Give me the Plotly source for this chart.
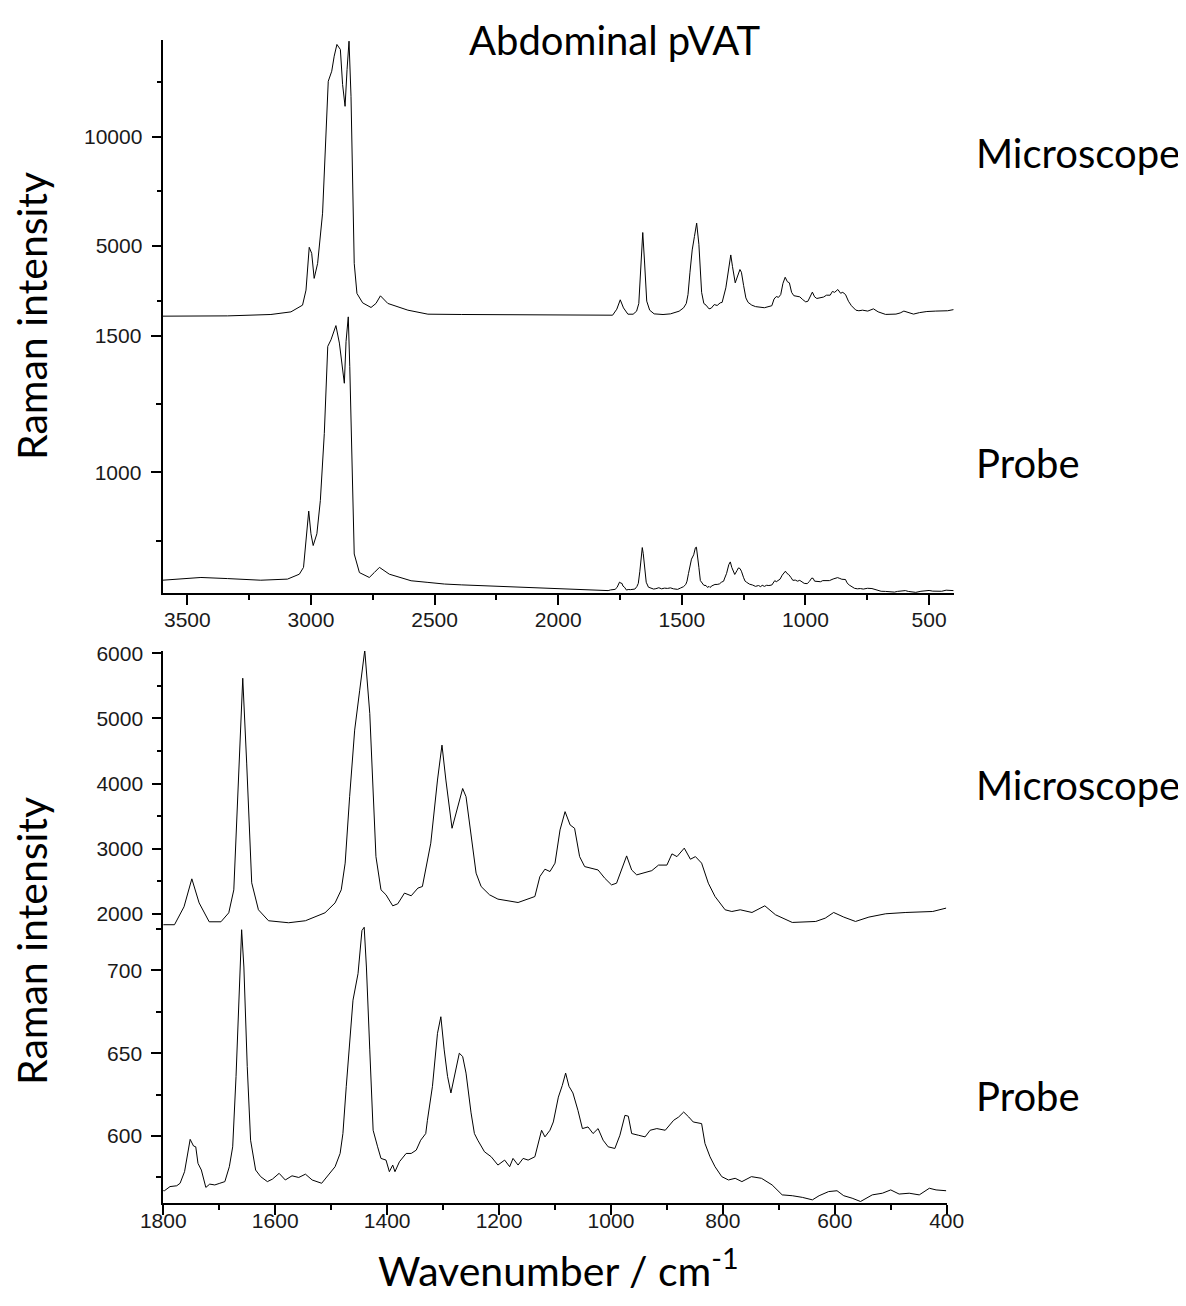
import plotly.graph_objects as go

# ---------------- data ----------------
wn_micro = [3600, 3337, 3162, 3081, 3034, 3020, 3007, 2997, 2987, 2973, 2953, 2939, 2930, 2916,
            2906, 2895, 2881, 2872, 2862, 2854, 2846, 2838, 2831, 2825, 2814, 2791, 2757, 2737,
            2719, 2689, 2608, 2527, 2392, 2200, 2000, 1800, 1780, 1763, 1749, 1736, 1718, 1697,
            1683, 1674, 1665, 1658, 1651, 1642, 1630, 1612, 1576, 1546, 1511, 1493, 1482, 1475,
            1467, 1458, 1449, 1440, 1431, 1425, 1420, 1411, 1402, 1390, 1381, 1369, 1357, 1345,
            1337, 1322, 1310, 1302, 1295, 1284, 1265, 1259, 1250, 1241, 1232, 1217, 1202, 1166,
            1136, 1127, 1118, 1109, 1100, 1091, 1082, 1073, 1065, 1056, 1047, 1023, 1011, 999,
            990, 981, 972, 963, 954, 927, 915, 900, 891, 882, 869, 858, 849, 838, 826, 814, 796,
            784, 769, 748, 725, 706, 676, 634, 617, 602, 584, 563, 539, 509, 473, 425, 401]
int_micro = [1790, 1803, 1867, 1986, 2294, 2982, 4940, 4665, 3519, 4206, 6500, 10321, 12537, 12996,
             13683, 14220, 13991, 12385, 11390, 13073, 14370, 11848, 7262, 4206, 2830, 2400, 2188, 2372,
             2721, 2372, 2065, 1881, 1867, 1850, 1840, 1835, 1835, 2110, 2539, 2170, 1880, 1880,
             2018, 2370, 4315, 5617, 4315, 2478, 2064, 1896, 1865, 1896, 2018, 2170, 2370, 2780,
             3800, 4821, 5433, 6046, 5077, 3800, 2880, 2371, 2294, 2125, 2156, 2320, 2279, 2397,
             2421, 3086, 4055, 4591, 4055, 3315, 3925, 3800, 3187, 2626, 2421, 2294, 2228, 2176,
             2268, 2574, 2687, 2651, 2779, 3290, 3570, 3366, 3315, 2880, 2727, 2675, 2548, 2446,
             2472, 2675, 2891, 2675, 2600, 2665, 2750, 2750, 2922, 2880, 3010, 2840, 2880, 2780, 2472, 2268, 2064,
             2038, 2064, 2023, 2125, 1988, 1870, 1885, 1936, 2023, 1952, 1885, 1952, 2003, 2023, 2038, 2090]

wn_probe = [3600, 3445, 3337, 3203, 3095, 3047, 3030, 3020, 3009, 3000, 2991, 2976, 2962, 2946,
            2932, 2919, 2899, 2885, 2872, 2865, 2858, 2849, 2843, 2835, 2825, 2804, 2764, 2744,
            2723, 2683, 2595, 2527, 2460, 2392, 2200, 2000, 1798, 1788, 1776, 1770, 1762, 1752,
            1746, 1742, 1738, 1732, 1724, 1717, 1708, 1699, 1690, 1682, 1676, 1670, 1664, 1660,
            1656, 1650, 1644, 1635, 1626, 1614, 1605, 1593, 1582, 1570, 1558, 1546, 1534, 1517,
            1505, 1493, 1484, 1479, 1473, 1467, 1461, 1452, 1445, 1441, 1437, 1431, 1425, 1417,
            1411, 1402, 1396, 1390, 1386, 1378, 1366, 1357, 1348, 1340, 1331, 1328, 1319, 1310,
            1304, 1298, 1292, 1286, 1277, 1271, 1265, 1259, 1250, 1244, 1238, 1226, 1214, 1202,
            1190, 1181, 1175, 1166, 1157, 1148, 1136, 1130, 1124, 1118, 1109, 1103, 1094, 1087,
            1081, 1075, 1068, 1059, 1051, 1041, 1032, 1023, 1014, 1005, 993, 984, 975, 969, 963,
            951, 939, 930, 918, 903, 888, 879, 870, 861, 853, 838, 832, 823, 814, 802, 790, 778,
            766, 749, 731, 712, 694, 676, 658, 640, 628, 611, 596, 584, 569, 554, 533, 515, 500,
            485, 467, 449, 431, 419, 401]
int_probe = [605, 615, 611, 605, 609, 627, 652, 750, 858, 775, 732, 775, 897, 1142,
             1461, 1485, 1537, 1473, 1375, 1326, 1479, 1569, 1387, 1020, 701, 633, 615, 633,
             652, 627, 603, 597, 591, 588, 582, 574, 567, 569.5, 570, 571.5, 578.5, 598,
             594, 593.5, 583.5, 579.5, 569, 571, 570.5, 571.5, 572.5, 581.5, 593.5, 636, 692, 724.5,
             702, 642, 597.5, 579.5, 575.5, 572.5, 574, 577.5, 573.5, 576, 575, 577, 573.5, 571.5,
             576.5, 581.5, 589.5, 601.5, 630, 658, 682, 698, 724, 726, 702, 652, 603.5, 593.5,
             586.5, 585.5, 578.5, 582.5, 578.5, 584.5, 589.5, 589.5, 591.5, 597.5, 601.5, 609.5, 630, 662,
             672, 652, 636, 626, 640, 650, 648, 638, 614, 601.5, 597.5, 590.5, 587.5, 582.5,
             585.5, 581.5, 586.5, 582.5, 586.5, 585.5, 587.5, 595.5, 603.5, 599.5, 603.5, 608.5, 623.5, 630.5,
             638, 630, 626, 615.5, 604.5, 605.5, 601.5, 604.5, 597.5, 593.5, 592.5, 600.5, 612.5, 612, 601.5,
             600.5, 599.5, 603.5, 604.5, 603.5, 609.5, 611.5, 614.5, 611.5, 608.5, 607.5, 595.5, 587.5, 581.5, 575.5, 573.5, 574.5,
             572.5, 575.5, 574.5, 570.5, 564.5, 564, 563, 561.5, 564, 566.5, 567, 564, 562.5, 560.5, 564.5, 565.5, 567.5,
             565, 565.5, 564.5, 568.5, 567.5, 567]

top_x_major = [3500, 3000, 2500, 2000, 1500, 1000, 500]
top_x_minor = [3250, 2750, 2250, 1750, 1250, 750]
bot_x_major = [1800, 1600, 1400, 1200, 1000, 800, 600, 400]
bot_x_minor = [1700, 1500, 1300, 1100, 900, 700, 500]
top_micro_major = [5000, 10000]
top_micro_minor = [2500, 7500, 12500]
top_probe_major = [1000, 1500]
top_probe_minor = [750, 1250]
bot_micro_major = [2000, 3000, 4000, 5000, 6000]
bot_micro_minor = [2500, 3500, 4500, 5500]
bot_probe_major = [600, 650, 700]
bot_probe_minor = [575, 625, 675, 725]

# ---------------- figure ----------------
# page body has an 8px margin, so the figure is drawn 8px in from the corner
OFF = 8
W, H = 1177, 1290
def fx(p):
    return (p - OFF) / W
def fy(p):
    return 1 - (p - OFF) / H

line = dict(color='black', width=1)
fig = go.Figure()
fig.add_trace(go.Scatter(x=wn_micro, y=int_micro, xaxis='x', yaxis='y2', mode='lines', line=line))
fig.add_trace(go.Scatter(x=wn_probe, y=int_probe, xaxis='x', yaxis='y', mode='lines', line=line))
fig.add_trace(go.Scatter(x=wn_micro, y=int_micro, xaxis='x2', yaxis='y4', mode='lines', line=line))
fig.add_trace(go.Scatter(x=wn_probe, y=int_probe, xaxis='x2', yaxis='y3', mode='lines', line=line))

tickfont = dict(family='Liberation Sans, Arial, sans-serif', size=21, color='#1a1a1a')

def ax(major, minor, showline=True, **kw):
    d = dict(showline=showline, linecolor='black', linewidth=2, ticks='outside', ticklen=10,
             tickwidth=1.5, tickcolor='black', showgrid=False, zeroline=False,
             tickmode='array', tickvals=major, ticktext=[str(v) for v in major],
             tickfont=tickfont, automargin=False,
             minor=dict(tickmode='array', tickvals=minor, ticks='outside', ticklen=5,
                        tickwidth=1.5, tickcolor='black', showgrid=False))
    d.update(kw)
    return d

top_dom = [fy(593), fy(40)]
bot_dom = [fy(1203), fy(651)]

fig.update_layout(
    width=W, height=H, margin=dict(l=0, r=0, t=0, b=0),
    paper_bgcolor='white', plot_bgcolor='white', showlegend=False,
    xaxis=ax(top_x_major, top_x_minor, domain=[fx(162.6), fx(953.8)], range=[3600, 400],
             anchor='y', ticklabelstandoff=-3),
    yaxis=ax(top_probe_major, top_probe_minor, domain=top_dom, range=[558.2, 2582.4],
             anchor='x', ticklabelstandoff=5),
    yaxis2=ax(top_micro_major, top_micro_minor, showline=False, overlaying='y', side='left',
              range=[-10874, 14424], anchor='x', ticklabelstandoff=5),
    xaxis2=ax(bot_x_major, bot_x_minor, domain=[fx(163.3), fx(946.7)], range=[1800, 400],
              anchor='y3', ticklabelstandoff=-12),
    yaxis3=ax(bot_probe_major, bot_probe_minor, domain=bot_dom, range=[559.6, 892.7],
              anchor='x2', ticklabelstandoff=5),
    yaxis4=ax(bot_micro_major, bot_micro_minor, showline=False, overlaying='y3', side='left',
              range=[-2435, 6035], anchor='x2', ticklabelstandoff=5),
)

labfont = dict(family='Lato, Carlito, Calibri, sans-serif', size=41, color='black')
ann = [
    dict(text='Abdominal pVAT', x=fx(615), y=fy(40), size=40),
    dict(text='Microscope', x=fx(974), y=fy(153), xanchor='left', size=40),
    dict(text='Probe', x=fx(974), y=fy(463), xanchor='left', size=40),
    dict(text='Microscope', x=fx(974), y=fy(785), xanchor='left', size=40),
    dict(text='Probe', x=fx(974), y=fy(1096), xanchor='left', size=40),
    dict(text='Raman intensity', x=fx(31), y=fy(316), textangle=-90),
    dict(text='Raman intensity', x=fx(31), y=fy(941), textangle=-90),
    dict(text='Wavenumber / cm<sup>-1</sup>', x=fx(558), y=fy(1297), yanchor='bottom'),
]
for a in ann:
    f = dict(labfont)
    if 'size' in a:
        f['size'] = a.pop('size')
    fig.add_annotation(xref='paper', yref='paper', showarrow=False, font=f,
                       xanchor=a.pop('xanchor', 'center'), yanchor=a.pop('yanchor', 'middle'), **a)

fig.write_html('out.html')
